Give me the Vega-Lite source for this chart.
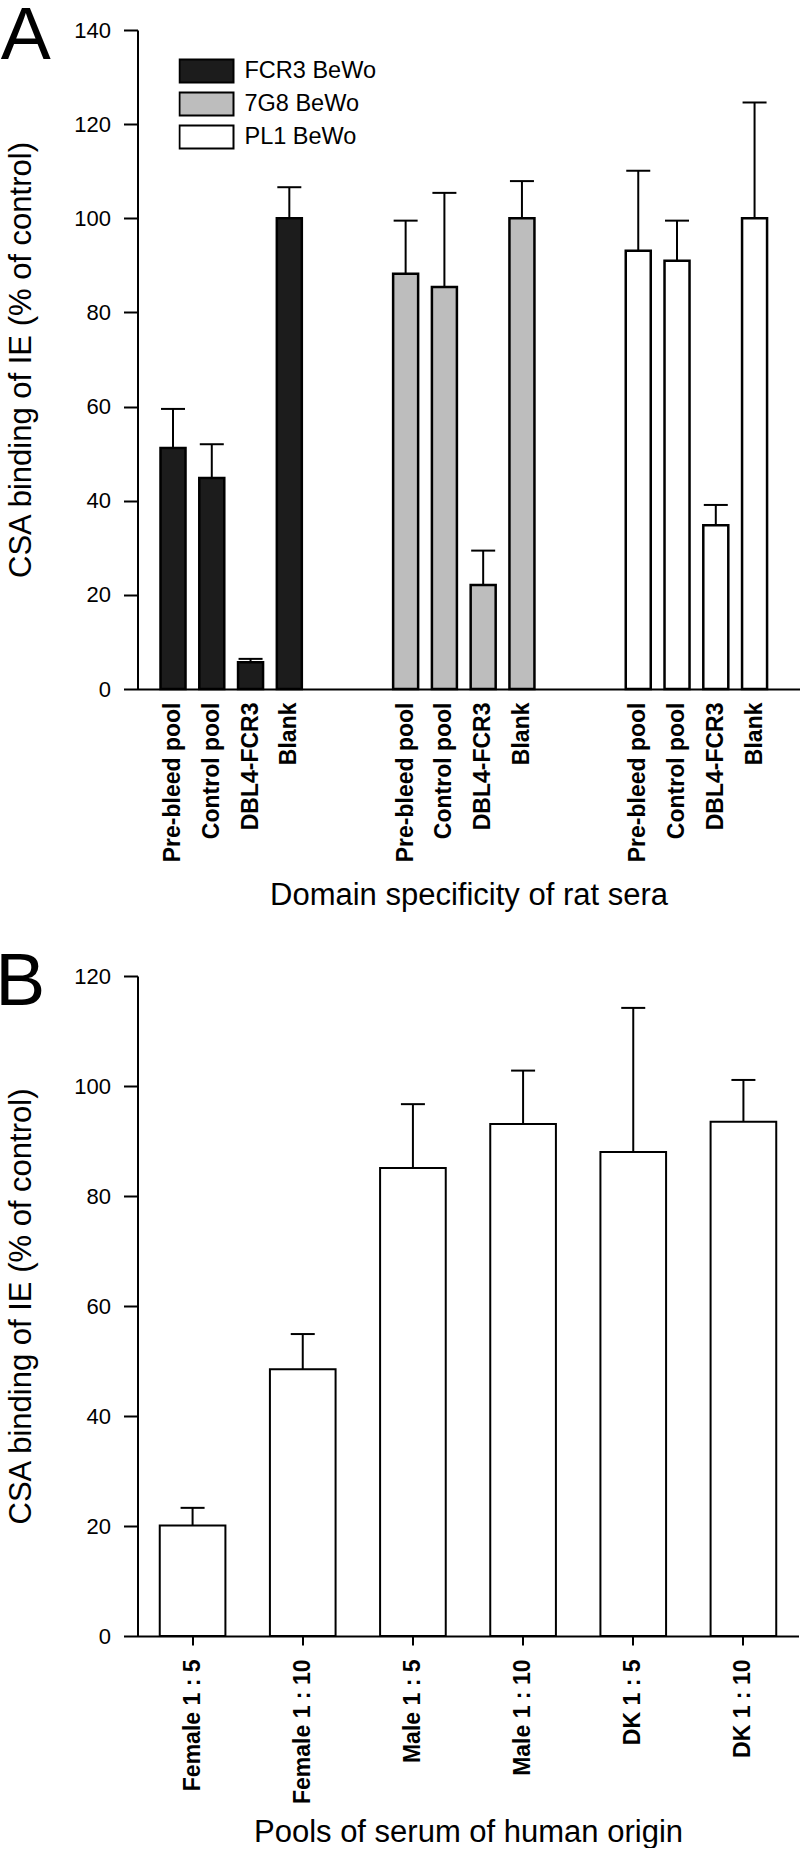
{
  "$schema": "https://vega.github.io/schema/vega-lite/v6.json",
  "padding": {"left": -5.5, "top": -2, "right": 0, "bottom": 0},
  "background": "white",
  "spacing": 33,
  "config": {
    "font": "Liberation Sans",
    "view": {"stroke": null},
    "axis": {
      "grid": false,
      "domainColor": "black",
      "domainWidth": 2,
      "tickColor": "black",
      "tickWidth": 2,
      "labelColor": "black",
      "titleColor": "black",
      "labelFont": "Liberation Sans",
      "titleFont": "Liberation Sans",
      "titleFontWeight": "normal",
      "labelFontSize": 22,
      "titleFontSize": 31
    },
    "title": {"font": "Liberation Sans", "fontWeight": "normal", "color": "black", "anchor": "start", "frame": "bounds", "fontSize": 75}
  },
  "vconcat": [
    {
      "width": 662,
      "height": 659,
      "title": {"text": "A", "dy": 59.5, "dx": -5},
      "data": {"values": [
        {"key": "F|Pre-bleed pool", "strain": "FCR3 BeWo", "value": 51.2, "upper": 59.5},
        {"key": "F|Control pool", "strain": "FCR3 BeWo", "value": 44.8, "upper": 52.0},
        {"key": "F|DBL4-FCR3", "strain": "FCR3 BeWo", "value": 5.7, "upper": 6.4},
        {"key": "F|Blank", "strain": "FCR3 BeWo", "value": 100, "upper": 106.6},
        {"key": "G|Pre-bleed pool", "strain": "7G8 BeWo", "value": 88.2, "upper": 99.5},
        {"key": "G|Control pool", "strain": "7G8 BeWo", "value": 85.4, "upper": 105.4},
        {"key": "G|DBL4-FCR3", "strain": "7G8 BeWo", "value": 22.1, "upper": 29.4},
        {"key": "G|Blank", "strain": "7G8 BeWo", "value": 100, "upper": 107.9},
        {"key": "P|Pre-bleed pool", "strain": "PL1 BeWo", "value": 93.1, "upper": 110.1},
        {"key": "P|Control pool", "strain": "PL1 BeWo", "value": 91.0, "upper": 99.5},
        {"key": "P|DBL4-FCR3", "strain": "PL1 BeWo", "value": 34.8, "upper": 39.1},
        {"key": "P|Blank", "strain": "PL1 BeWo", "value": 100, "upper": 124.6}
      ]},
      "encoding": {
        "x": {
          "field": "key", "type": "nominal", "sort": null,
          "scale": {
            "domain": ["F|Pre-bleed pool", "F|Control pool", "F|DBL4-FCR3", "F|Blank", "gap1|", "gap2|",
                       "G|Pre-bleed pool", "G|Control pool", "G|DBL4-FCR3", "G|Blank", "gap3|", "gap4|",
                       "P|Pre-bleed pool", "P|Control pool", "P|DBL4-FCR3", "P|Blank"],
            "paddingInner": 0.355, "paddingOuter": 0.715, "align": 0.415
          },
          "axis": {
            "title": "Domain specificity of rat  sera",
            "labelAngle": -90,
            "labelExpr": "split(datum.value, '|')[1]",
            "ticks": false,
            "tickSize": 0,
            "labelPadding": 13,
            "labelFontWeight": "bold",
            "labelFontSize": 23,
            "titlePadding": 19
          }
        }
      },
      "layer": [
        {
          "mark": {"type": "bar", "stroke": "black", "strokeWidth": 2.5},
          "encoding": {
            "y": {
              "field": "value", "type": "quantitative",
              "scale": {"domain": [0, 140], "nice": false},
              "axis": {"title": "CSA binding of IE (% of control)", "values": [0, 20, 40, 60, 80, 100, 120, 140], "tickSize": 14, "labelPadding": 13, "titlePadding": 36}
            },
            "fill": {
              "field": "strain", "type": "nominal",
              "scale": {"domain": ["FCR3 BeWo", "7G8 BeWo", "PL1 BeWo"], "range": ["#1c1c1c", "#bdbdbd", "#ffffff"]},
              "legend": {
                "title": null,
                "orient": "none",
                "legendX": 41,
                "legendY": 28,
                "symbolType": "M-1,-0.426H1V0.426H-1Z",
                "symbolSize": 2916,
                "symbolStrokeColor": "black",
                "symbolStrokeWidth": 2,
                "symbolOpacity": 1,
                "clipHeight": 26,
                "rowPadding": 7,
                "labelOffset": 10,
                "labelFont": "Liberation Sans",
                "labelFontSize": 23.5,
                "labelColor": "black",
                "labelLimit": 300
              }
            }
          }
        },
        {
          "mark": {"type": "rule", "strokeWidth": 2, "color": "black"},
          "encoding": {
            "y": {"field": "value", "type": "quantitative"},
            "y2": {"field": "upper"}
          }
        },
        {
          "mark": {"type": "tick", "size": 24, "thickness": 2, "color": "black", "opacity": 1},
          "encoding": {
            "y": {"field": "upper", "type": "quantitative"}
          }
        }
      ]
    },
    {
      "width": 661,
      "height": 660,
      "title": {"text": "B", "dy": 59.5, "dx": -10.5},
      "data": {"values": [
        {"pool": "Female 1 : 5", "value": 20.1, "upper": 23.3},
        {"pool": "Female 1 : 10", "value": 48.5, "upper": 54.9},
        {"pool": "Male 1 : 5", "value": 85.1, "upper": 96.7},
        {"pool": "Male 1 : 10", "value": 93.1, "upper": 102.8},
        {"pool": "DK 1 : 5", "value": 88.0, "upper": 114.2},
        {"pool": "DK 1 : 10", "value": 93.5, "upper": 101.1}
      ]},
      "encoding": {
        "x": {
          "field": "pool", "type": "nominal", "sort": null,
          "scale": {"paddingInner": 0.404, "paddingOuter": 0.202},
          "axis": {
            "title": "Pools of serum of human origin",
            "labelAngle": -90,
            "tickSize": 9,
            "labelPadding": 14,
            "labelFontWeight": "bold",
            "labelFontSize": 23,
            "titlePadding": 14
          }
        }
      },
      "layer": [
        {
          "mark": {"type": "bar", "fill": "white", "stroke": "black", "strokeWidth": 2},
          "encoding": {
            "y": {
              "field": "value", "type": "quantitative",
              "scale": {"domain": [0, 120], "nice": false},
              "axis": {"title": "CSA binding of IE (% of control)", "values": [0, 20, 40, 60, 80, 100, 120], "tickSize": 14, "labelPadding": 13, "titlePadding": 36}
            }
          }
        },
        {
          "mark": {"type": "rule", "strokeWidth": 2, "color": "black"},
          "encoding": {
            "y": {"field": "value", "type": "quantitative"},
            "y2": {"field": "upper"}
          }
        },
        {
          "mark": {"type": "tick", "size": 24, "thickness": 2, "color": "black", "opacity": 1},
          "encoding": {
            "y": {"field": "upper", "type": "quantitative"}
          }
        }
      ]
    }
  ]
}
